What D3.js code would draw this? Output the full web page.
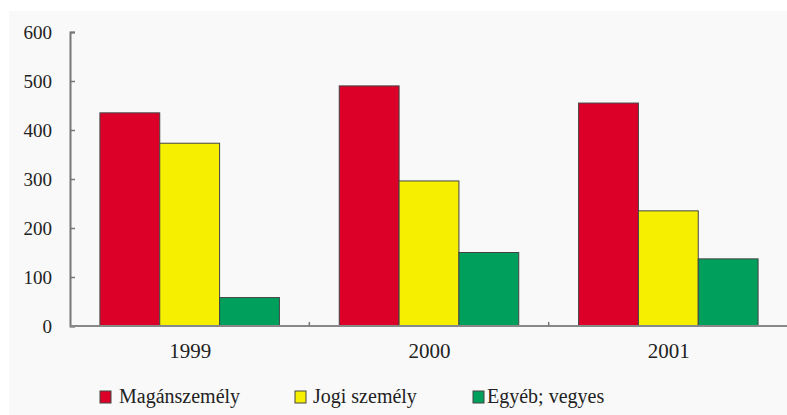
<!DOCTYPE html>
<html><head><meta charset="utf-8">
<script src="https://cdn.jsdelivr.net/npm/d3@7"></script>
<style>body{margin:0;background:#fff}svg{display:block}</style>
</head><body>
<svg id="c" width="787" height="415"></svg>
<script>
const categories = ["1999", "2000", "2001"];
const seriesNames = ["Magánszemély", "Jogi személy", "Egyéb; vegyes"];
const magan = [435, 490, 455];
const jogi = [373, 296, 235];
const egyeb = [58, 150, 137];
const yTicks = [0, 100, 200, 300, 400, 500, 600];
const colors = ["#dc0029", "#f6f000", "#00a05c"];

const seriesVals = [magan, jogi, egyeb];
const svg = d3.select("#c");
const font = '"Liberation Serif"';

svg.append("rect").attr("x", 9).attr("y", 11).attr("width", 778).attr("height", 404).attr("fill", "#f9f9f9");

const x0 = d3.scaleBand().domain(categories).range([70, 788]);
const pad = x0.bandwidth() / 8;
const x1 = d3.scaleBand().domain(d3.range(3)).range([pad, x0.bandwidth() - pad]);
const y = d3.scaleLinear().domain([0, 600]).range([326, 32]);

// bars
categories.forEach((c, ci) => {
  seriesVals.forEach((vals, si) => {
    svg.append("rect")
      .attr("x", x0(c) + x1(si))
      .attr("y", y(vals[ci]))
      .attr("width", x1.bandwidth())
      .attr("height", y(0) - y(vals[ci]))
      .attr("fill", colors[si])
      .attr("stroke", "#444")
      .attr("stroke-width", 1);
  });
});

// y axis
const ya = svg.append("g").attr("transform", "translate(70,0)")
  .call(d3.axisLeft(y).tickValues(yTicks).tickSize(-5).tickPadding(18).tickFormat(d3.format("d")));
ya.attr("font-family", null);
ya.select(".domain").attr("stroke", "#777").attr("stroke-width", 2);
ya.selectAll(".tick line").attr("stroke", "#777").attr("stroke-width", 1.5);
ya.selectAll("text").style("font-family", font).attr("font-size", 19).attr("fill", "#222").attr("dy", "0.36em");

// x axis
svg.append("line").attr("x1", 70).attr("x2", 787).attr("y1", y(0)).attr("y2", y(0)).attr("stroke", "#888").attr("stroke-width", 2);
categories.slice(1).forEach(c => {
  svg.append("line").attr("x1", x0(c)).attr("x2", x0(c)).attr("y1", y(0)).attr("y2", y(0) - 4).attr("stroke", "#777").attr("stroke-width", 1.5);
});
svg.selectAll(".xl").data(categories).enter().append("text")
  .attr("x", d => x0(d) + x0.bandwidth() / 2 + 0.5)
  .attr("y", 358)
  .attr("text-anchor", "middle")
  .style("font-family", font).attr("font-size", 21).attr("fill", "#222")
  .text(d => d);

// legend
const legX = [100, 295, 473];
const legTx = [119, 313, 487];
seriesNames.forEach((n, i) => {
  svg.append("rect").attr("x", legX[i]).attr("y", 391).attr("width", 11).attr("height", 12)
    .attr("fill", colors[i]).attr("stroke", "#444").attr("stroke-width", 1);
  svg.append("text").attr("x", legTx[i]).attr("y", 403)
    .style("font-family", font).attr("font-size", 20).attr("fill", "#222").text(n);
});
</script>
</body></html>
